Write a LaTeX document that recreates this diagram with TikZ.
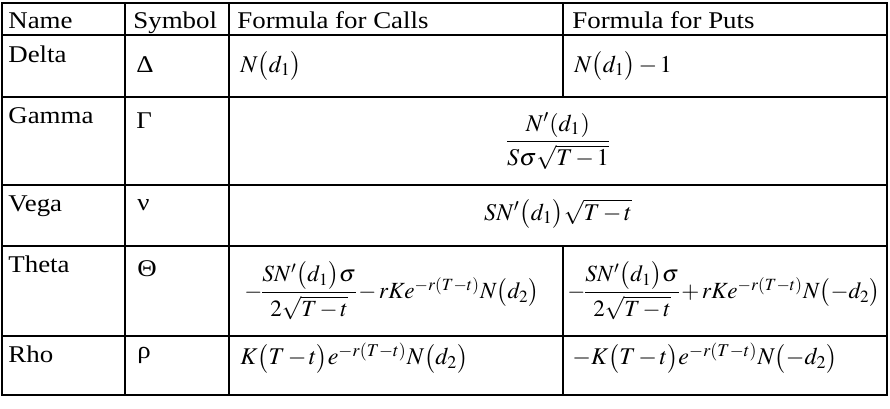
\documentclass[tikz,border=0pt]{standalone}
\usepackage{amsmath}
\usepackage{mathptmx}
\usepackage[no-math]{fontspec}
\setmainfont{Liberation Serif}[FakeStretch=1.12]
\usetikzlibrary{positioning}

\newcommand\tightmath{\medmuskip=2mu\relax\nulldelimiterspace=0pt\relax}

\tikzset{
  rule/.style={line width=1.1pt},
  celltext/.style={anchor=base west, inner sep=0pt},
  formula/.style={anchor=west, inner sep=0pt, execute at begin node=\tightmath},
  wideformula/.style={anchor=center, inner sep=0pt, execute at begin node=\tightmath},
  longformula/.style={formula, font=\fontsize{11.6}{14}\selectfont},
}

\begin{document}
\begin{tikzpicture}[x=0.5pt, y=-0.5pt, font=\fontsize{12}{14}\selectfont]
        \useasboundingbox (0,0) rectangle (890,408);

        % table rules
        \draw [rule] (2,3) rectangle (887,395);
        \foreach \y in {35,97,185,246,336}
            \draw [rule] (2,\y) -- (887,\y);
        \foreach \x in {125,229}
            \draw [rule] (\x,3) -- (\x,395);
        \draw [rule] (563,3) -- (563,97);
        \draw [rule] (563,246) -- (563,395);

        % header row
        \node [celltext] (hname) at (8,28) {Name};
        \node [celltext] (hsymbol) at (133,28) {Symbol};
        \node [celltext] (hcalls) at (237,28) {Formula for Calls};
        \node [celltext] (hputs) at (572,28) {Formula for Puts};

        % first column
        \node [celltext] (delta) at (8,62) {Delta};
        \node [celltext] (gamma) at (8,123) {Gamma};
        \node [celltext] (vega) at (8,211) {Vega};
        \node [celltext] (theta) at (8,272) {Theta};
        \node [celltext] (rho) at (8,362) {Rho};

        % symbols
        \node [celltext] (sdelta) at (136,72) {Δ};
        \node [celltext] (sgamma) at (136,128) {Γ};
        \node [celltext] (svega) at (137,210) {ν};
        \node [celltext] (stheta) at (137,276) {Θ};
        \node [celltext] (srho) at (137,358) {ρ};

        % formulas
        \node [formula] (cdelta) at (240,66) {$N\bigl(d_1\bigr)$};
        \node [formula] (pdelta) at (574,66) {$N\bigl(d_1\bigr)-1$};
        \node [wideformula] (fgamma) at (558,141)
            {$\dfrac{N'(d_1)}{S\sigma\sqrt{T-1}}$};
        \node [wideformula] (fvega) at (558,214)
            {$SN'\bigl(d_1\bigr)\sqrt{T-t}$};
        \node [longformula] (ctheta) at (244,291)
            {$-\dfrac{SN'\bigl(d_1\bigr)\sigma}{2\sqrt{T-t}}-rKe^{-r(T-t)}N\bigl(d_2\bigr)$};
        \node [longformula] (ptheta) at (567,291)
            {$-\dfrac{SN'\bigl(d_1\bigr)\sigma}{2\sqrt{T-t}}+rKe^{-r(T-t)}N\bigl(-d_2\bigr)$};
        \node [formula] (crho) at (240,358)
            {$K\bigl(T-t\bigr)e^{-r(T-t)}N\bigl(d_2\bigr)$};
        \node [formula] (prho) at (572,358)
            {$-K\bigl(T-t\bigr)e^{-r(T-t)}N\bigl(-d_2\bigr)$};
    \end{tikzpicture}
\end{document}
